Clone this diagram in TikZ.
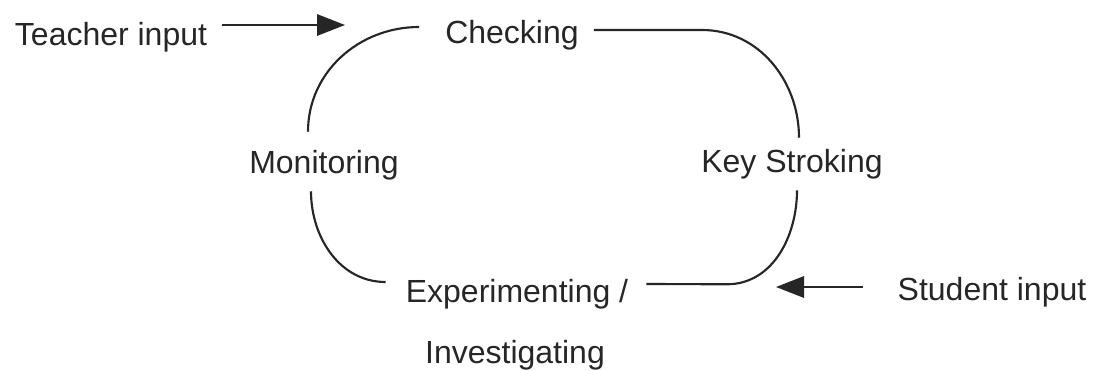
\documentclass[tikz,border=0pt]{standalone}
\usepackage{fontspec}
\setmainfont{Liberation Sans}
\usetikzlibrary{arrows.meta}

\tikzstyle{mylabel} = [anchor=base, text=black!85, font=\fontsize{24pt}{28pt}\selectfont,
    inner xsep=9pt, inner ysep=3.75pt, text height=21.75pt, text depth=9.75pt]
\tikzstyle{myline} = [draw=black!85, line width=1.6pt]
\tikzstyle{myarrow} = [myline, -{Triangle[length=21pt,width=16pt]}]

\begin{document}
\begin{tikzpicture}[x=0.75pt,y=-0.75pt]
\useasboundingbox (0,0) rectangle (1103,371);

% stages of the cycle
\node [mylabel] (check) at (512,43) {Checking};
\node [mylabel] (key) at (792,172) {Key Stroking};
\node [mylabel] (exp) at (517,302) {Experimenting /};
\node [mylabel] (inv) at (515,363) {Investigating};
\node [mylabel] (mon) at (324,173) {Monitoring};

% inputs
\node [mylabel] (teacher) at (111,45) {Teacher input};
\node [mylabel] (student) at (992,300) {Student input};
\coordinate (tin) at (345,25);
\coordinate (sin) at (776,287);

% the cycle
\draw [myline] ([xshift=-12pt,yshift=5.25pt]mon.north) to[out=90,in=180]
    ([xshift=-10.5pt,yshift=6pt]check.west);
\draw [myline] ([xshift=2.25pt,yshift=3.75pt]check.east) -- ++(108,0)
    to[out=0,in=90] ([xshift=5.25pt]key.north);
\draw [myline] ([xshift=3.75pt]key.south) to[out=-90,in=0] ++(-70,94)
    -- ([xshift=4.5pt,yshift=7.5pt]exp.east);
\draw [myline] ([xshift=-6pt,yshift=9pt]exp.west) to[out=180,in=-90]
    ([xshift=-9.75pt]mon.south);

% input arrows
\draw [myarrow] ([xshift=2pt,yshift=9pt]teacher.east) -- (tin);
\draw [myarrow] ([xshift=-16.5pt,yshift=3.75pt]student.west) -- (sin);
\end{tikzpicture}
\end{document}
